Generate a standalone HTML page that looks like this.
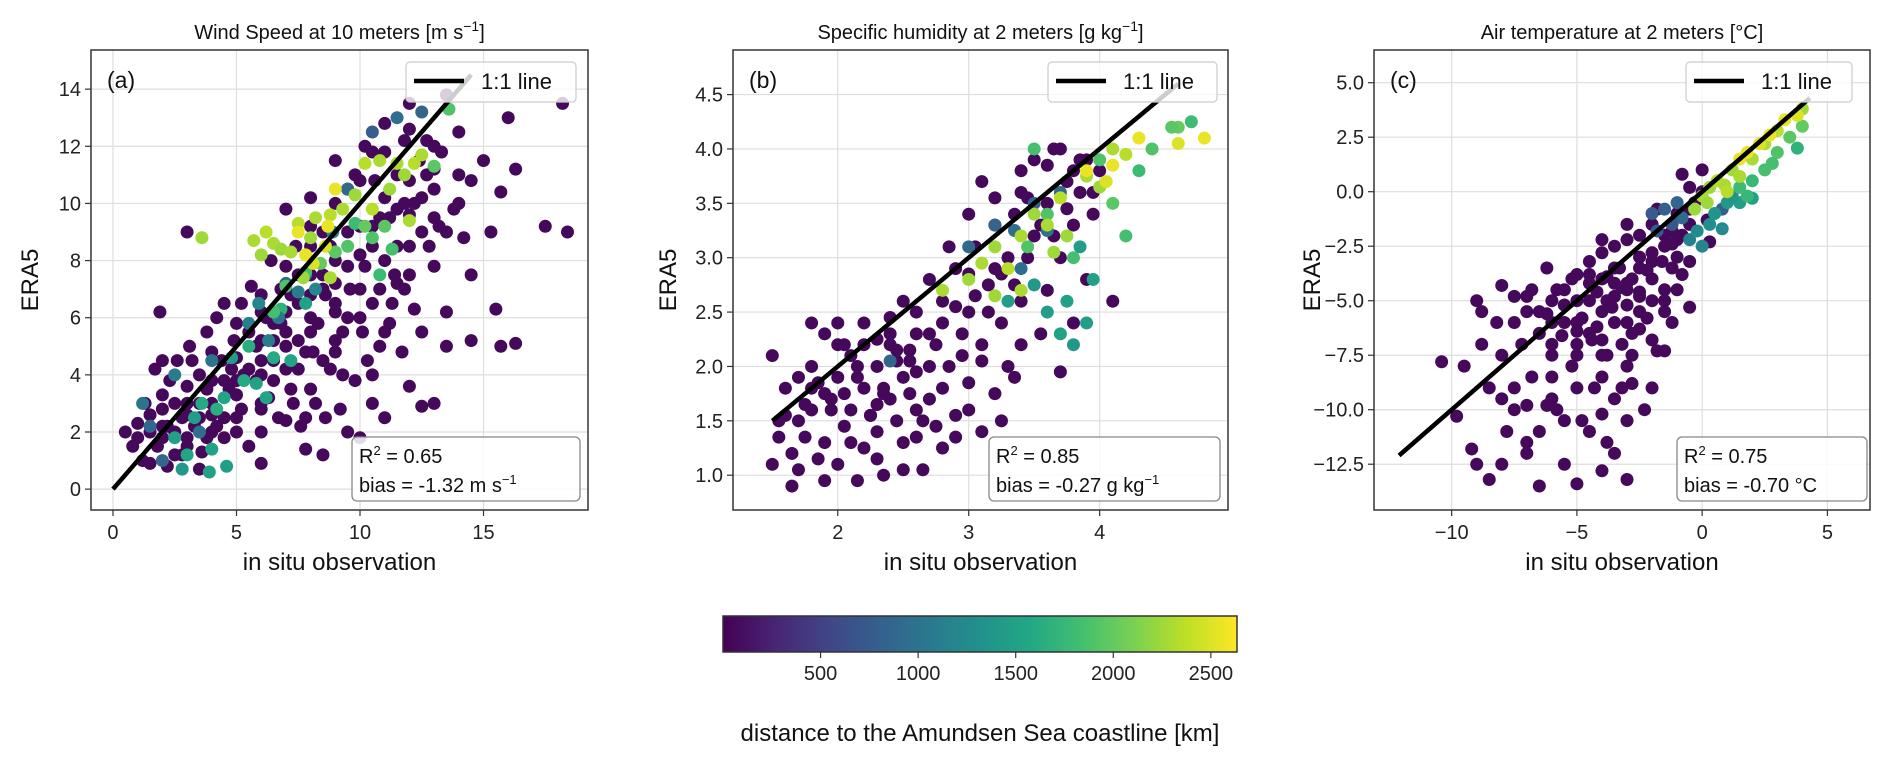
<!DOCTYPE html>
<html><head><meta charset="utf-8"><style>
html,body{margin:0;padding:0;background:#fff}
svg{display:block;font-family:"Liberation Sans","DejaVu Sans",sans-serif}
</style></head><body>
<svg id="fig" width="1892" height="765" viewBox="0 0 1892 765" xmlns="http://www.w3.org/2000/svg"></svg>
<script>
// ---------- Panel (a) wind speed data ----------
const windFillObs = [1,1.5,2,2.5,3,3.5,4,4.5,5,5.5,6,6.5,7,7.5,8,8.5,9,9.5,10,10.5,11,11.5,12,12.5,13,2,3,4,5,6,7,8,9,10,11,12,3,4,5,6,7,8,9,10,11,12,13,2.5,3.8,5,6.5,7.5,8.5,9.5,10.5,11.5,12.8,14,13.5,6,7,8,9,10.5,11.2,12];
const windFillEra = [1.8,2.6,3.3,3,2.6,2.5,3.8,3.8,4.6,4.2,5.2,5.8,6.2,5.2,6.8,7.5,7.2,7.8,8.2,9.2,10.2,9.8,10.8,10.2,11.2,2.2,3.6,4.8,5.8,6.2,7.8,9.2,10,10.8,11.8,12.6,1.5,2.6,3.8,4.5,5,5.5,6.2,7,8,9.6,9.5,1.2,1.8,2,3.8,4.2,4.5,6,6.5,7.2,8.5,10,9,2.8,2.4,3.5,4.8,4,5.8,7.5];
const windObs = [0.5,0.8,1,1.2,1.3,1.5,1.7,1.8,2,2.2,2.3,2.5,2.6,2.8,3,3.1,3.3,3.5,3.6,3.8,4,4,4.2,4.4,4.5,4.7,4.9,5,5.2,5.3,5.5,5.6,5.8,6,6,6.2,6.4,6.5,6.7,6.8,7,7,7.2,7.4,7.5,7.6,7.8,8,8,8.2,8.3,8.5,8.6,8.8,9,9,9.2,9.3,9.5,9.6,9.8,10,10,10.2,10.3,10.5,10.6,10.8,11,11,11.2,11.4,11.5,11.7,11.8,12,12,12.2,12.4,12.5,12.7,13,13,13.3,13.5,13.5,13.8,14,14.2,14.5,14.5,15,15.3,15.5,15.7,16,16.3,17.5,18.4,18.2,16.3,15.7,13.5,12,12.5,10.5,3,1.9,2,14.5,13,8.5,10,6,11,9.5,7.8,3.5,4.5,2,2.8,3.8,5,5.8,6.5,7.2,8,8.8,9.5,10.2,10.8,11.5,12.2,9,7,6,4.5,3.2,11.8,13,12.7,9.8,10.5,8.5,8,7.5,6.8,5.5,4.8,3,2.2,1.5,9.3,10.8,12.5,11.3,14,13.2,6.3,7.3,8.6,7.8,5.2,4.2,3.5,6,8.1,9,10.1,11.8,
2.5,3,3.3,3.6,4,4.2,4.5,4.8,5.3,5.8,6.2,3.9,4.6,2.8,5.5,6.5,7.2,6.8,7.8,
1.5,1.2,2,2.5,3.5,5.5,5.9,6.7,7,7.5,7.8,8.2,8.9,9.5,10.5,12.5,11.5,6.3,4,
7,7.8,8.4,9,9.5,9.8,10.2,10.5,11,11.3,10.8,13,13.6,6.5,
3.6,5.7,6,6.2,6.5,6.8,7.2,7.5,8,8.2,8.8,9.3,9.8,10.2,10.8,11.2,11.5,12.2,12.5,11.8,12,10.5,7.7,8.8,
9,8.7,8.6,7.8,8.1,7.5];
const windEra = [2,1.5,2.3,1,3,2,4.2,1.5,2.8,0.8,3.8,2,4.5,1.2,3,5,2.2,4,1.3,5.5,3,2,6,4.5,1.8,3.5,5.2,2.5,6.5,4,1.5,7.1,5,3,2,6,8,4.5,2.5,7,5.5,9.8,3.5,8.5,6.5,2.2,4.8,7.5,10.2,3,5.8,9,6.8,4.2,8,11.5,2.8,5.5,10.5,7,3.8,9.2,6,12,4.5,8.5,10.8,7,5.5,12.8,9.5,7.5,11,4.8,10,8.5,13.5,6.3,11.5,9,12.2,10.5,7.8,11.8,6.2,13.8,9.8,12.5,8.8,10.8,5.2,11.5,9,6.3,10.4,13,11.2,9.2,9,13.5,5.1,5,5,3.6,2.9,3,9,6.2,4.5,7.5,3,1.2,1.8,0.9,2.5,2,1.4,0.7,6.5,1.8,2.5,3.5,3.3,3.8,5.2,6.8,6,8.5,9,7.8,9.5,8.5,10,6.5,4.2,6.8,2.5,4.5,12.2,12,11,11,11.8,7,8.5,7.5,5.8,5.5,4.2,1.8,2.2,0.9,4,5,5.5,6.5,11,9.2,3.2,3,2.5,2.5,2.8,2.2,3,4,4.8,5.2,5.5,7,
1.8,1.2,2.5,3,1.4,2.8,3.2,4.6,3.8,3.7,3.2,0.6,0.8,0.7,5,4.6,4.5,6.3,6.5,
2.2,3,1,4,2,5.8,6.5,6,7.2,6.9,7.5,7,9,10.5,12.5,13.2,13,5.2,4.5,
7.1,7.6,7.9,8.3,8.5,9.3,9.2,8.8,9.2,8.4,7.5,11.3,13.3,6.2,
8.8,8.7,8.2,9,8.6,8.4,8.3,9.3,8.8,9.5,9.6,9.8,10.3,11.4,11.5,10.5,11.4,11.4,11.7,11,9.4,9.8,7.4,7.4,
10.5,9.2,8.5,8.2,7.9,9];
const windColoredDist = [1500,1550,1450,1600,1500,1650,1550,1450,1600,1500,1550,1500,1450,1400,1650,1600,1550,1700,1500,
900,1000,850,1100,950,1150,1200,1050,900,1100,1000,1200,1250,900,800,850,950,1100,1000,
1900,1850,2000,1950,1900,1800,2000,1900,1950,1850,1800,1950,1900,1850,
2250,2300,2250,2350,2300,2250,2300,2350,2250,2300,2350,2300,2250,2350,2300,2250,2300,2350,2300,2250,2300,2350,2250,2300,
2550,2550,2500,2550,2500,2550];

// ---------- Panel (b) specific humidity data ----------
const humFillObs = [1.6,1.75,1.85,1.95,2.05,2.15,2.25,2.35,2.45,2.55,2.65,2.75,2.85,2.95,3.05,3.15,3.25,3.35,3.45,3.55,3.65,3.75,3.85,3.95,1.7,1.9,2.1,2.3,2.5,2.6,2.8,2.0,2.2,2.4,2.6,2.8,3.0,3.2,3.4,3.6,3.7,3.8,3.9,2.3,2.7,3.1,3.4,1.8,1.55,3.0,3.25,2.9];
const humFillEra = [1.55,1.35,1.15,1.6,1.75,2.0,1.55,1.8,2.05,1.75,1.5,2.2,2.0,2.3,2.65,2.5,2.85,2.75,3.0,3.3,3.2,3.45,3.6,3.4,1.05,0.95,1.3,1.15,1.05,1.35,1.25,2.2,2.2,2.45,2.5,2.6,2.85,3.55,3.8,3.85,4.0,3.8,3.9,1.65,1.7,2.05,2.2,1.8,1.5,1.6,1.5,1.35];
const humObs = [1.5,1.6,1.7,1.5,1.65,1.8,1.8,1.9,1.9,2.0,2.0,2.1,2.1,2.15,2.2,2.2,2.3,2.3,2.35,2.4,2.4,2.5,2.5,2.5,2.6,2.6,2.65,2.7,2.7,2.8,2.8,2.9,2.9,2.95,3.0,3.0,3.05,3.1,3.1,3.15,3.2,3.2,3.25,3.3,3.35,3.4,3.4,3.5,3.5,3.55,3.6,3.65,3.7,3.75,3.8,3.8,3.85,3.9,3.95,3.3,2.4,2.0,1.8,1.7,1.9,2.2,2.6,2.75,2.45,3.2,3.35,2.9,2.55,3.6,3.7,4.0,4.1,3.0,2.85,1.65,1.55,2.05,3.1,3.45,2.3,
1.75,1.95,2.15,2.35,2.55,2.7,1.85,2.25,2.45,2.05,
3.0,3.2,3.35,3.5,3.6,2.4,3.7,3.4,
3.6,3.7,3.8,3.9,3.75,3.5,3.3,3.95,3.85,
3.6,3.8,4.1,4.3,4.4,4.6,4.2,4.0,4.7,4.55,3.5,3.45,
3.0,3.1,3.2,3.3,3.4,3.5,3.6,3.7,3.75,3.9,4.0,4.1,4.2,3.2,2.8,3.4,3.65,
4.1,4.3,4.6,4.8,4.05,3.9];
const humEra = [2.1,1.8,1.5,1.1,1.2,2.0,1.6,2.3,1.3,1.9,1.1,2.1,1.6,0.95,2.4,1.8,1.4,2.0,1.0,2.2,1.7,2.6,1.3,1.9,2.3,1.6,1.05,2.0,2.8,1.8,2.4,1.55,2.9,2.1,2.5,1.85,3.1,2.2,1.4,2.75,3.3,1.75,2.4,3.0,1.9,3.6,2.6,3.2,3.9,2.3,3.5,4.0,3.0,3.7,2.4,3.3,3.9,2.8,3.6,2.0,2.3,2.4,2.4,1.9,1.75,1.25,1.95,1.45,1.5,2.9,3.4,2.55,2.15,2.7,1.95,3.8,2.6,3.4,3.1,0.9,1.35,1.45,3.7,3.55,2.25,
1.65,1.7,1.9,1.75,2.05,2.3,1.85,1.55,2.15,2.2,
3.1,3.3,3.25,3.5,3.25,2.05,3.6,2.9,
2.5,2.3,2.2,2.4,2.6,2.75,2.6,2.8,3.1,
3.4,3.0,3.5,3.8,4.0,4.2,3.2,3.9,4.25,4.2,4.0,3.1,
2.8,2.95,3.1,2.9,3.2,3.4,3.3,3.55,3.2,3.75,3.65,4.0,3.95,2.65,2.7,2.7,3.05,
3.85,4.1,4.05,4.1,3.7,3.8];
const humColoredDist = [900,850,950,800,1000,850,900,950,
1450,1500,1400,1450,1500,1400,1450,1500,1450,
1900,1850,1950,1800,1900,2000,1850,1900,1800,1950,1850,1900,
2250,2300,2250,2350,2300,2250,2300,2350,2250,2300,2250,2300,2350,2250,2300,2300,2250,
2550,2550,2500,2550,2500,2550];

// ---------- Panel (c) air temperature data ----------
const tempFillObs = [-6,-5.5,-5,-4.5,-4,-3.5,-3,-2.5,-2,-1.5,-1,-0.5,-6,-5,-4,-3,-2,-1.5,-2.5,-3.5,-4.5,-5.5,-6.5,-7,-7.5,-3.2,-3,-4.5,-5.5,-6,-7,-8,-7.5,-2,-1.5,-0.8,-1.2,-0.5,0,-2.5,-4,-3.8,-2.8,-5,-6.2,-4,-8.8,-8,-9,-3.5];
const tempFillEra = [-5,-4.5,-6,-5,-4,-3.5,-4.5,-3.5,-3.2,-2,-2.2,-1.5,-7.5,-7.5,-6.8,-6,-6.8,-4.5,-5.5,-4.2,-3.8,-5.2,-6.5,-5.5,-4.8,-9,-10.5,-11,-10.5,-8.5,-11.5,-12.5,-9,-9,-5,-3.8,-1.8,-0.8,0,-2,-2.2,-7.5,-7.5,-9,-9.8,-10.2,-7,-9.5,-12.5,-12];
const tempObs = [-9.5,-9,-8.8,-8.5,-8,-8,-7.5,-7.5,-7,-7,-6.8,-6.5,-6.5,-6.2,-6,-6,-5.8,-5.5,-5.5,-5.2,-5,-5,-4.8,-4.5,-4.5,-4.3,-4,-4,-4,-3.8,-3.5,-3.5,-3.3,-3,-3,-3,-2.8,-2.5,-2.5,-2.3,-2,-2,-2,-1.8,-1.5,-1.5,-1.2,-1,-1,-0.8,-0.5,-0.5,0,-0.3,0.2,0.3,-5,-8.5,-3,-9.8,-10.4,-9.2,-7.8,-6.5,-4,-2.8,-1.5,-0.5,-3.5,-6,-5,-4.5,-3.8,-2.5,-1.2,-7.2,-8.2,-7,-5.8,-4,-2,-3,-1.8,-0.8,-6.8,-5.2,-3.5,-2.8,-4.8,-3.2,-2.2,-1,-4.2,
-5.5,-4.8,-4.2,-3.6,-3,-2.5,-5,-4.4,-3.8,-3.2,-6.2,-5.6,-1.6,-2.2,-1.2,
-2,-1.5,-1.2,-1,-0.8,-1.8,0.8,
-0.5,-0.2,0,0.3,0.5,1,1.5,2,0.8,1.2,
1.5,2,2.5,3,3.5,4,3.8,2.8,1.8,
-0.3,0,0.3,0.6,0.9,1.2,1.5,1,0.2,2,2.5,3,4,
1.8,2.3,2.7,3.3,3.8,1.5];
const tempEra = [-8,-5,-5.5,-9,-4.3,-7.5,-10,-6,-4.8,-12,-8.5,-5.5,-11,-3.5,-7,-9.5,-4.5,-6,-12.5,-8,-5,-3.8,-10.5,-6.5,-4.2,-9,-5.5,-2.8,-7.5,-11.5,-4.8,-6,-3.5,-5.2,-8,-2.2,-4,-6.3,-3,-10,-5,-1.5,-4,-7.3,-2.5,-5.5,-3.5,-1,-4.5,-2,0.2,-3.2,1,-0.5,-1.3,-2.3,-13.4,-13.2,-13.2,-10.3,-7.8,-11.8,-11,-13.5,-12.8,-8.8,-7.3,-5.3,-9.5,-6,-7,-3.2,-5,-4.8,-6,-7,-6,-9.8,-10,-8.5,-2.8,-1.5,-0.8,0.8,-4.5,-4,-2.5,-6.5,-5.8,-7,-5.8,-3,-6.2,
-5.2,-5.8,-4.6,-5.3,-4.2,-4.6,-6.4,-6.8,-3.9,-4.4,-5.6,-6.6,-3.2,-3.6,-2.4,
-1,-0.8,-1.5,-0.5,-1.2,-1.8,-0.8,
-2.2,-1.8,-2.5,-1.5,-1,-0.5,-0.5,-0.3,-1.7,-0.2,
0.2,0.5,1,1.8,2.5,3,2,1.3,-0.2,
-0.8,-0.2,0.2,0.5,0.3,1,0.7,0,-0.5,1.5,2.2,2.8,3.8,
1.8,2.2,2.6,3.3,3.5,1.5];
const tempColoredDist = [750,800,700,850,900,750,800,
1150,1250,1200,1300,1350,1400,1450,1500,1250,1350,
1800,1750,1850,1900,1950,2000,1700,1850,1750,
2250,2300,2250,2350,2300,2250,2300,2350,2250,2300,2300,2350,2250,
2550,2500,2550,2550,2500,2550];

// ---------- Axis / label arrays ----------
const windTicksX = [0,5,10,15];
const windTicksY = [0,2,4,6,8,10,12,14];
const humTicksX = [2,3,4];
const humTicksY = [1.0,1.5,2.0,2.5,3.0,3.5,4.0,4.5];
const tempTicksX = [-10,-5,0,5];
const tempTicksY = [-12.5,-10.0,-7.5,-5.0,-2.5,0.0,2.5,5.0];
const cbarTicks = [500,1000,1500,2000,2500];
const statsR2 = ["0.65","0.85","0.75"];
const statsBias = ["-1.32 m s","-0.27 g kg","-0.70 °C"];
const oneToOne = [[0,14.5],[1.5,4.6],[-12.1,4.3]];
const cMax = 2634;
const purpleDist = 50;

function fullDist(xs, colored){
  const n = Math.max(0, xs.length - colored.length);
  return Array(n).fill(purpleDist).concat(colored);
}

const NS = "http://www.w3.org/2000/svg";
const svg = document.getElementById('fig');
function mk(tag, attrs, parent){
  const e = document.createElementNS(NS, tag);
  for (const k in attrs) e.setAttribute(k, attrs[k]);
  (parent||svg).appendChild(e);
  return e;
}
const VIR = ["#440154","#482475","#414487","#355f8d","#2a788e","#21918c","#22a884","#44bf70","#7ad151","#bddf26","#fde725"];
function hex(h){return [parseInt(h.substr(1,2),16),parseInt(h.substr(3,2),16),parseInt(h.substr(5,2),16)];}
function viridis(t){
  if(!isFinite(t)) t=0;
  t=Math.max(0,Math.min(1,t)); const f=t*10, i=Math.min(9,Math.floor(f)), r=f-i;
  const a=hex(VIR[i]), b=hex(VIR[i+1]);
  return 'rgb('+a.map((v,k)=>Math.round(v+(b[k]-v)*r)).join(',')+')';
}
function fmt(v,dec){const s=v.toFixed(dec);return v<0?'\u2212'+s.slice(1):s;}

const wX = windFillObs.concat(windObs), wY = windFillEra.concat(windEra);
const hX = humFillObs.concat(humObs), hY = humFillEra.concat(humEra);
const tX = tempFillObs.concat(tempObs), tY = tempFillEra.concat(tempEra);

const panels = [
 {id:'wind', L:91,R:588, xmin:-0.89,xmax:19.23, ymin:-0.73,ymax:15.37, xs:wX, ys:wY, cs:fullDist(wX,windColoredDist), tx:windTicksX, ty:windTicksY, dx:0, dy:0,
  title:['Wind Speed at 10 meters [m s','\u22121',']'], tag:'(a)', leg:[406,576], stat:[352,580], ylabX:30},
 {id:'humidity', L:733,R:1228, xmin:1.2,xmax:4.98, ymin:0.68,ymax:4.91, xs:hX, ys:hY, cs:fullDist(hX,humColoredDist), tx:humTicksX, ty:humTicksY, dx:0, dy:1,
  title:['Specific humidity at 2 meters [g kg','\u22121',']'], tag:'(b)', leg:[1048,1217], stat:[989,1220], ylabX:668},
 {id:'temperature', L:1374,R:1870, xmin:-13.1,xmax:6.7, ymin:-14.6,ymax:6.5, xs:tX, ys:tY, cs:fullDist(tX,tempColoredDist), tx:tempTicksX, ty:tempTicksY, dx:0, dy:1,
  title:['Air temperature at 2 meters [°C]','',''], tag:'(c)', leg:[1686,1852], stat:[1677,1867], ylabX:1312}
];
const T=50, B=510;

panels.forEach((p,pi)=>{
  const g = mk('g',{});
  
  
  const sx = v => p.L + (v-p.xmin)/(p.xmax-p.xmin)*(p.R-p.L);
  const sy = v => B - (v-p.ymin)/(p.ymax-p.ymin)*(B-T);
  p.tx.forEach(v=>{
    const l=mk('line',{x1:sx(v),x2:sx(v),y1:T,y2:B,stroke:'#dedede','stroke-width':1.2},g);
    
    
  });
  p.ty.forEach(v=>{
    const l=mk('line',{x1:p.L,x2:p.R,y1:sy(v),y2:sy(v),stroke:'#dedede','stroke-width':1.2},g);
    
    
  });
  const n=Math.min(p.xs.length,p.ys.length);
  for(let i=0;i<n;i++){
    const c=mk('circle',{cx:sx(p.xs[i]),cy:sy(p.ys[i]),r:6.5,fill:viridis(p.cs[i]/cMax)},g);
    
    
  }
  const o=oneToOne[pi];
  const ln=mk('line',{x1:sx(o[0]),y1:sy(o[0]),x2:sx(o[1]),y2:sy(o[1]),stroke:'#000','stroke-width':4.5},g);
  
  
  const fr=mk('rect',{x:p.L,y:T,width:p.R-p.L,height:B-T,fill:'none',stroke:'#333','stroke-width':1.5},g);
  
  
  p.tx.forEach(v=>{
    const t=mk('line',{x1:sx(v),x2:sx(v),y1:B,y2:B+6,stroke:'#333','stroke-width':1.2},g);
    
    
    const tl=mk('text',{x:sx(v),y:539,'text-anchor':'middle','font-size':20,fill:'#222'},g);
    tl.textContent=fmt(v,p.dx);
    
    
  });
  p.ty.forEach(v=>{
    const t=mk('line',{x1:p.L-6,x2:p.L,y1:sy(v),y2:sy(v),stroke:'#333','stroke-width':1.2},g);
    
    
    const tl=mk('text',{x:p.L-10,y:sy(v)+7,'text-anchor':'end','font-size':20,fill:'#222'},g);
    tl.textContent=fmt(v,p.dy);
    
    
  });
  const cx=(p.L+p.R)/2;
  const ti=mk('text',{x:cx,y:39,'text-anchor':'middle','font-size':20,fill:'#111'},g);
  
  
  const s1=mk('tspan',{},ti); s1.textContent=p.title[0];
  if(p.title[1]){const s2=mk('tspan',{dy:-8,'font-size':14},ti); s2.textContent=p.title[1];
    const s3=mk('tspan',{dy:8},ti); s3.textContent=p.title[2];}
  const xl=mk('text',{x:cx,y:570,'text-anchor':'middle','font-size':24,fill:'#111'},g);
  xl.textContent='in situ observation';
  
  
  const yl=mk('text',{x:0,y:0,'text-anchor':'middle','font-size':24,fill:'#111',transform:'translate('+(p.ylabX+8)+',280) rotate(-90)'},g);
  yl.textContent='ERA5';
  
  
  const tg=mk('text',{x:p.L+16,y:88,'font-size':23,fill:'#111'},g);
  tg.textContent=p.tag;
  
  
  const lg=mk('g',{},g);
  
  
  mk('rect',{x:p.leg[0],y:62,width:p.leg[1]-p.leg[0],height:40,rx:4,fill:'#fff','fill-opacity':0.8,stroke:'#ccc','stroke-width':1.2},lg);
  mk('line',{x1:p.leg[0]+8,x2:p.leg[0]+58,y1:81,y2:81,stroke:'#000','stroke-width':4.5},lg);
  const lt=mk('text',{x:p.leg[0]+75,y:89,'font-size':22,fill:'#111'},lg);
  lt.textContent='1:1 line';
  
  
  const sb=mk('g',{},g);
  
  
  mk('rect',{x:p.stat[0],y:437,width:p.stat[1]-p.stat[0],height:64,rx:5,fill:'#fff','fill-opacity':0.85,stroke:'#888','stroke-width':1.3},sb);
  const r2=mk('text',{x:p.stat[0]+7,y:463,'font-size':20,fill:'#111'},sb);
  const a1=mk('tspan',{},r2); a1.textContent='R';
  const a2=mk('tspan',{dy:-8,'font-size':13},r2); a2.textContent='2';
  const a3=mk('tspan',{dy:8},r2); a3.textContent=' = '+statsR2[pi];
  const bi=mk('text',{x:p.stat[0]+7,y:492,'font-size':20,fill:'#111'},sb);
  const b1=mk('tspan',{},bi); b1.textContent='bias = '+statsBias[pi];
  if(pi<2){const b2=mk('tspan',{dy:-8,'font-size':13},bi); b2.textContent='\u22121';}
});

// ---------- Colorbar ----------
const cbL=723, cbR=1237, cbT=616, cbB=652;
const defs=mk('defs',{});
const grad=mk('linearGradient',{id:'vir',x1:0,x2:1,y1:0,y2:0},defs);
VIR.forEach((c,i)=>mk('stop',{offset:(i*10)+'%','stop-color':c},grad));
const cb=mk('g',{});


mk('rect',{x:cbL,y:cbT,width:cbR-cbL,height:cbB-cbT,fill:'url(#vir)',stroke:'#333','stroke-width':1.5},cb);
const cx2 = v => cbL + v/cMax*(cbR-cbL);
cbarTicks.forEach(v=>{
  const t=mk('line',{x1:cx2(v),x2:cx2(v),y1:cbB,y2:cbB+6,stroke:'#333','stroke-width':1.2},cb);
  
  
  const tl=mk('text',{x:cx2(v),y:680,'text-anchor':'middle','font-size':20,fill:'#222'},cb);
  tl.textContent=String(v);
  
  
});
const cbt=mk('text',{x:(cbL+cbR)/2,y:741,'text-anchor':'middle','font-size':24,fill:'#111'},cb);
cbt.textContent='distance to the Amundsen Sea coastline [km]';


</script>
</body></html>
